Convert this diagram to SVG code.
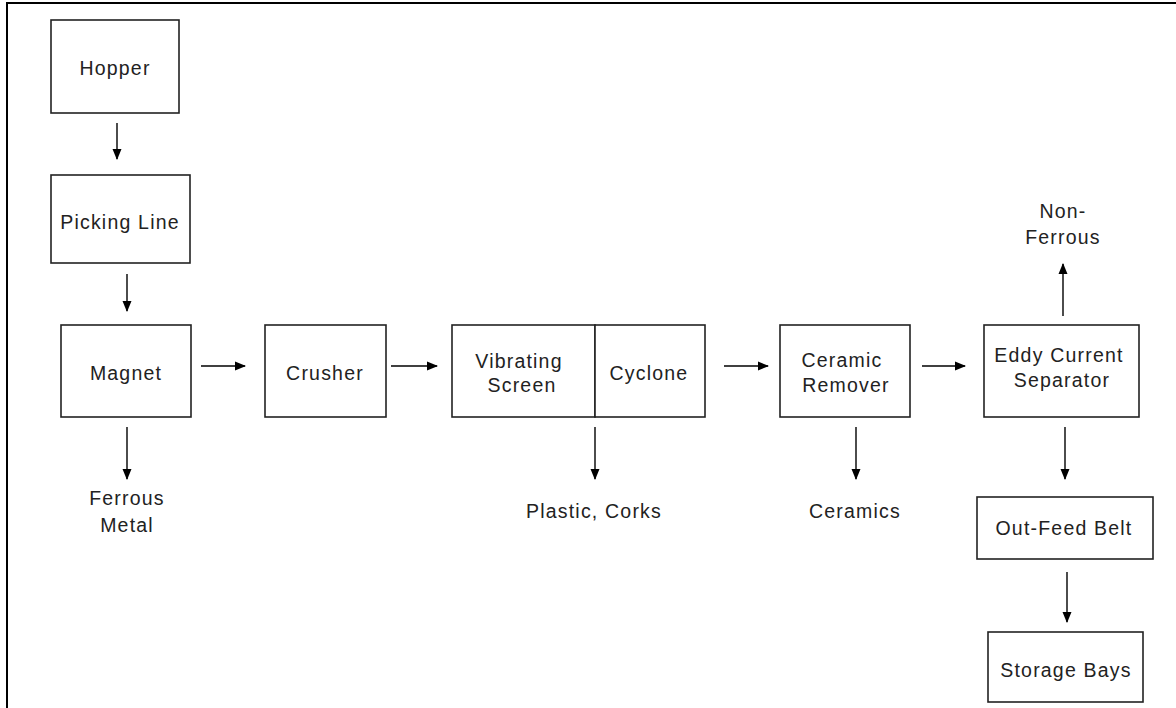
<svg xmlns="http://www.w3.org/2000/svg" width="1176" height="708" viewBox="0 0 1176 708">
<style>
.box{fill:#fff;stroke:#222;stroke-width:1.6}
.t{font-family:"Liberation Sans",Arial,sans-serif;font-size:19.5px;letter-spacing:1.2px;fill:#222;text-anchor:middle}
.c{stroke:#000;stroke-width:1.4;fill:none;marker-end:url(#ah)}
</style>
<defs>
<marker id="ah" markerWidth="11" markerHeight="10" refX="10" refY="5" orient="auto" markerUnits="userSpaceOnUse">
<path d="M0,0.5 L11,5 L0,9.5 Z" fill="#000"/>
</marker>
</defs>
<rect width="1176" height="708" fill="#fff"/>
<g id="frame">
<line x1="7" y1="3" x2="1176" y2="3" stroke="#000" stroke-width="2"/>
<line x1="7" y1="2" x2="7" y2="708" stroke="#000" stroke-width="2"/>
</g>
<g id="hopper"><rect class="box" x="51" y="20" width="128" height="93"/><text class="t" x="115" y="75">Hopper</text></g>
<g id="picking"><rect class="box" x="51" y="175" width="139" height="88"/><text class="t" x="120" y="229">Picking Line</text></g>
<g id="magnet"><rect class="box" x="61" y="325" width="130" height="92"/><text class="t" x="126" y="380">Magnet</text></g>
<g id="crusher"><rect class="box" x="265" y="325" width="121" height="92"/><text class="t" x="325" y="380">Crusher</text></g>
<g id="screen"><rect class="box" x="452" y="325" width="143" height="92"/><text class="t" x="519" y="368">Vibrating</text><text class="t" x="522" y="392">Screen</text></g>
<g id="cyclone"><rect class="box" x="595" y="325" width="110" height="92"/><text class="t" x="649" y="380">Cyclone</text></g>
<g id="ceramic"><rect class="box" x="780" y="325" width="130" height="92"/><text class="t" x="842" y="367">Ceramic</text><text class="t" x="846" y="392">Remover</text></g>
<g id="eddy"><rect class="box" x="984" y="325" width="155" height="92"/><text class="t" x="1059" y="362">Eddy Current</text><text class="t" x="1062" y="387">Separator</text></g>
<g id="outfeed"><rect class="box" x="977" y="497" width="176" height="62"/><text class="t" x="1064" y="535">Out-Feed Belt</text></g>
<g id="storage"><rect class="box" x="988" y="632" width="155" height="70"/><text class="t" x="1066" y="677">Storage Bays</text></g>
<g id="ferrous"><text class="t" x="127" y="505">Ferrous</text><text class="t" x="127" y="532">Metal</text></g>
<g id="plastic"><text class="t" x="594" y="518">Plastic, Corks</text></g>
<g id="ceramics"><text class="t" x="855" y="518">Ceramics</text></g>
<g id="nonferrous"><text class="t" x="1063" y="218">Non-</text><text class="t" x="1063" y="244">Ferrous</text></g>
<g id="connectors">
<line class="c" x1="117" y1="123" x2="117" y2="159"/>
<line class="c" x1="127" y1="274" x2="127" y2="311"/>
<line class="c" x1="201" y1="366" x2="245" y2="366"/>
<line class="c" x1="391" y1="366" x2="437" y2="366"/>
<line class="c" x1="724" y1="366" x2="768" y2="366"/>
<line class="c" x1="922" y1="366" x2="965" y2="366"/>
<line class="c" x1="1063" y1="316" x2="1063" y2="264"/>
<line class="c" x1="127" y1="427" x2="127" y2="479"/>
<line class="c" x1="595" y1="427" x2="595" y2="479"/>
<line class="c" x1="856" y1="427" x2="856" y2="479"/>
<line class="c" x1="1065" y1="427" x2="1065" y2="479"/>
<line class="c" x1="1067" y1="572" x2="1067" y2="622"/>
</g>
</svg>
